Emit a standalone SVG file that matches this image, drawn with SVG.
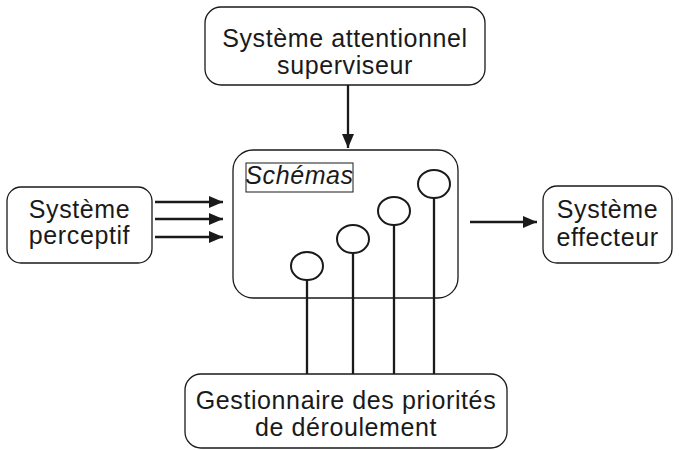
<svg xmlns="http://www.w3.org/2000/svg" width="679" height="450" viewBox="0 0 679 450">
<defs>
<marker id="arr" viewBox="0 0 14 12" refX="14" refY="6" markerWidth="14" markerHeight="12" markerUnits="userSpaceOnUse" orient="auto">
<path d="M0,0 L14,6 L0,12 z" fill="#1a1a1a"/>
</marker>
<style>
.box{fill:#fff;stroke:#1a1a1a;stroke-width:1.3}
.t{font-family:"Liberation Sans",Arial,sans-serif;font-size:25px;letter-spacing:0.6px;fill:#1a1a1a;text-anchor:middle}
.ln{stroke:#1a1a1a;stroke-width:2.3;fill:none}
.c{fill:#fff;stroke:#1a1a1a;stroke-width:2}
</style>
</defs>
<rect width="679" height="450" fill="#fff"/>
<g id="sas">
<rect class="box" x="205" y="7" width="280" height="78" rx="16"/>
<text class="t" x="345" y="47">Système attentionnel</text>
<text class="t" x="345" y="74">superviseur</text>
</g>
<g id="perceptif">
<rect class="box" x="7" y="187" width="145" height="76" rx="14"/>
<text class="t" x="79.5" y="218">Système</text>
<text class="t" x="79.5" y="244">perceptif</text>
</g>
<g id="effecteur">
<rect class="box" x="543" y="186" width="129" height="77" rx="14"/>
<text class="t" x="607.5" y="218">Système</text>
<text class="t" x="607.5" y="246">effecteur</text>
</g>
<g id="schemas">
<rect class="box" x="233" y="150" width="225" height="148" rx="20"/>
<rect x="246" y="163" width="107" height="29" fill="#fff" stroke="#1a1a1a" stroke-width="1"/>
<text class="t" x="299.5" y="184" font-style="italic" font-size="20" letter-spacing="0.7">Schémas</text>
</g>
<g id="gestionnaire">
<rect class="box" x="185" y="374" width="322" height="74" rx="16"/>
<text class="t" x="346" y="409">Gestionnaire des priorités</text>
<text class="t" x="346" y="436">de déroulement</text>
</g>
<g id="connectors">
<line class="ln" x1="348" y1="85" x2="348" y2="148" marker-end="url(#arr)"/>
<line class="ln" x1="155" y1="202" x2="223" y2="202" marker-end="url(#arr)"/>
<line class="ln" x1="155" y1="219" x2="223" y2="219" marker-end="url(#arr)"/>
<line class="ln" x1="155" y1="237" x2="223" y2="237" marker-end="url(#arr)"/>
<line class="ln" x1="470" y1="222" x2="537" y2="222" marker-end="url(#arr)"/>
<line class="ln" x1="307" y1="280" x2="307" y2="374"/>
<line class="ln" x1="353" y1="253" x2="353" y2="374"/>
<line class="ln" x1="394" y1="225" x2="394" y2="374"/>
<line class="ln" x1="434" y1="198" x2="434" y2="374"/>
<ellipse class="c" cx="307" cy="266" rx="16" ry="14"/>
<ellipse class="c" cx="353" cy="239" rx="16" ry="14"/>
<ellipse class="c" cx="394" cy="211" rx="16" ry="14"/>
<ellipse class="c" cx="434" cy="184" rx="16" ry="14"/>
</g>
</svg>
